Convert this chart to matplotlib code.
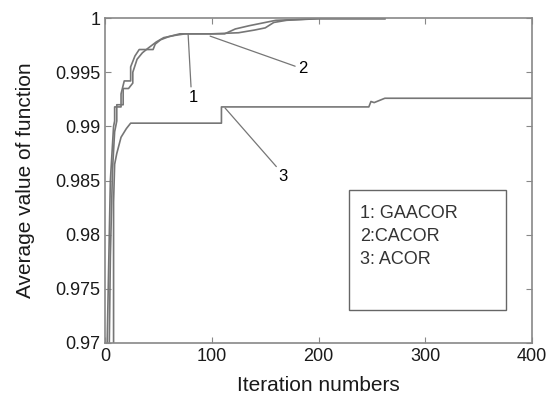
import matplotlib
matplotlib.use("Agg")
import matplotlib.pyplot as plt
from matplotlib.patches import Rectangle

plt.rcParams['font.family'] = ['Liberation Sans', 'DejaVu Sans']

# GAACOR
x1 = [2, 3, 5, 8, 9, 9, 15, 15, 18, 24, 24, 28, 32, 45, 47, 52, 60, 70, 80, 112, 122, 135, 150, 160, 200, 262]
y1 = [0.97, 0.975, 0.985, 0.990, 0.9905, 0.9918, 0.9918, 0.9930, 0.9942, 0.9942, 0.9955, 0.9965, 0.9971, 0.9971,
      0.9976, 0.9980, 0.9983, 0.99855, 0.99855, 0.99855, 0.9990, 0.9993, 0.9996, 0.9998, 0.99995, 0.99995]
# CACOR
x2 = [4, 5, 7, 9, 11, 11, 17, 17, 22, 26, 26, 30, 35, 40, 48, 55, 65, 75, 100, 125, 140, 150, 158, 170, 200, 262]
y2 = [0.97, 0.978, 0.986, 0.9895, 0.9905, 0.9920, 0.9920, 0.9935, 0.9935, 0.9940, 0.9950, 0.9962, 0.9968, 0.9972,
      0.9978, 0.9982, 0.9984, 0.99855, 0.99855, 0.99865, 0.9989, 0.9991, 0.9996, 0.9998, 0.99995, 0.99995]
# ACOR
x3 = [8, 8, 9, 11, 15, 20, 24, 109, 109, 247, 249, 252, 262, 400]
y3 = [0.97, 0.983, 0.9865, 0.9875, 0.989, 0.9898, 0.9903, 0.9903, 0.9918, 0.9918, 0.9923, 0.9922, 0.9926, 0.9926]

xticks = [0, 100, 200, 300, 400]
yticks = [0.97, 0.975, 0.98, 0.985, 0.99, 0.995, 1.0]
ytick_labels = ['0.97', '0.975', '0.98', '0.985', '0.99', '0.995', '1']
legend_lines = ['1: GAACOR', '2:CACOR', '3: ACOR']

fig = plt.figure(figsize=(5.47, 4.03), dpi=100)
ax = fig.add_axes([0.192, 0.149, 0.781, 0.806])

lc = '#767676'
ax.plot(x1, y1, color=lc, lw=1.2)
ax.plot(x2, y2, color=lc, lw=1.2)
ax.plot(x3, y3, color=lc, lw=1.2)

ax.set_xlim(0, 400)
ax.set_ylim(0.97, 1.0)
ax.set_xticks(xticks)
ax.set_xticklabels([str(t) for t in xticks])
ax.set_yticks(yticks)
ax.set_yticklabels(ytick_labels)
ax.tick_params(direction='in', length=4, width=0.8, color='#888888', top=True, right=True,
               labelsize=13, labelcolor='#1a1a1a')
for s in ax.spines.values():
    s.set_color('#888888')
    s.set_linewidth(1.2)

ax.set_xlabel('Iteration numbers', fontsize=15, color='#1a1a1a', labelpad=8)
ax.set_ylabel('Average value of function', fontsize=15, color='#1a1a1a', labelpad=14)

ann = dict(arrowstyle='-', color=lc, lw=0.9, shrinkA=0, shrinkB=0)
ax.annotate('1', xy=(77.8, 0.99852), xytext=(82.4, 0.9927), fontsize=12, ha='center', va='center',
            arrowprops=dict(ann, relpos=(0.3, 1.0)))
ax.annotate('2', xy=(98.4, 0.99834), xytext=(185, 0.99533), fontsize=12, ha='center', va='center',
            arrowprops=dict(ann, relpos=(0.0, 0.6)))
ax.annotate('3', xy=(112.4, 0.9917), xytext=(167, 0.98534), fontsize=12, ha='center', va='center',
            arrowprops=dict(ann, relpos=(0.0, 1.0)))

# text box
ax.add_patch(Rectangle((0.571, 0.10), 0.368, 0.37, transform=ax.transAxes, fill=False,
                       edgecolor='#666666', lw=1.0))
for i, t in enumerate(legend_lines):
    ax.text(0.597, 0.40 - i * 0.072, t, transform=ax.transAxes, fontsize=13, color='#333333',
            ha='left', va='center')

fig.savefig('out.png', dpi=100)
